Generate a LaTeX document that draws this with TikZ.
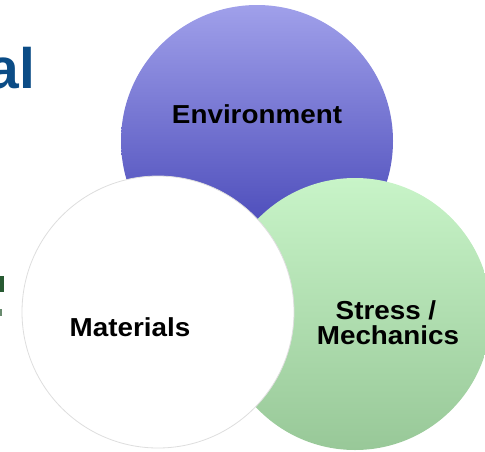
\documentclass[tikz,border=0pt]{standalone}
\usepackage{fontspec}
\setmainfont{Liberation Sans}
\definecolor{envtop}{RGB}{160,160,234}
\definecolor{envbot}{RGB}{58,58,176}
\definecolor{grntop}{RGB}{200,244,200}
\definecolor{grnbot}{RGB}{152,200,152}
\definecolor{titleblue}{RGB}{11,76,134}
\definecolor{fraggreen}{RGB}{40,90,50}
\definecolor{rimgray}{RGB}{222,222,222}
\tikzset{
  circlabel/.style={font=\bfseries\fontsize{26}{23}\selectfont, text=black, align=center, xscale=1.07, inner sep=0pt},
}
\begin{document}
\begin{tikzpicture}[x=1pt,y=-1pt]
\useasboundingbox (0,0) rectangle (485,451);
\begin{scope}
\clip (0,0) rectangle (485,451);
% title fragment
\node[anchor=base east, inner sep=0pt, text=titleblue, font=\bfseries\fontsize{57}{60}\selectfont] (title) at (35.5,88) {al};
% clipped green glyph fragment
\fill[fraggreen] (0,276) -- (4,276) -- (4,292) -- (0,292) -- cycle;
\fill[fraggreen!70] (0,309) rectangle (2,316);
% circles
\shade[top color=envtop, bottom color=envbot] (257,141) circle[radius=136];
\coordinate (envc) at (257,141);
\shade[top color=grntop, bottom color=grnbot] (355,314) circle[radius=136];
\coordinate (strc) at (355,314);
\fill[white] (158,312) circle[radius=136];
\draw[rimgray, line width=0.8pt] (158,312) circle[radius=136];
\coordinate (matc) at (158,312);
\end{scope}
% labels
\node[circlabel, anchor=base] (env) at (257,123.3) {Environment};
\node[circlabel, anchor=base] (mat) at (130,336.7) {Materials};
\node[circlabel, anchor=base] (str1) at (386,319) {Stress /};
\node[circlabel, anchor=base] (str2) at (388,344) {Mechanics};
\end{tikzpicture}
\end{document}
